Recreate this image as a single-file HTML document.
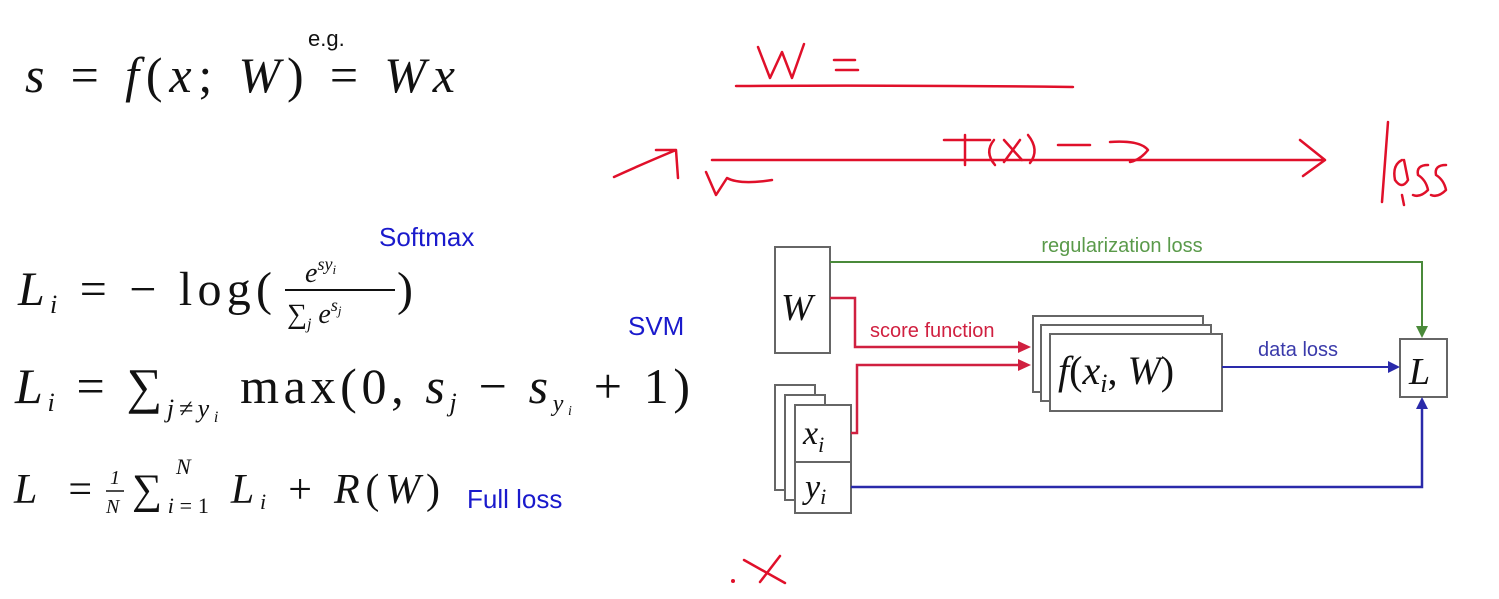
<!DOCTYPE html>
<html><head><meta charset="utf-8"><style>
html,body{margin:0;padding:0;background:#fff;}
svg{display:block}
.m{font-family:"Liberation Serif",serif;fill:#111;}
.i{font-style:italic}
.s{font-family:"Liberation Sans",sans-serif;}
</style></head><body>
<svg width="1499" height="599" viewBox="0 0 1499 599" xmlns="http://www.w3.org/2000/svg">
<rect width="1499" height="599" fill="#fff"/>
<!-- top formula -->
<text class="m" x="25" y="92" font-size="50" textLength="430" lengthAdjust="spacing"><tspan class="i">s</tspan> = <tspan class="i">f</tspan>(<tspan class="i">x</tspan>; <tspan class="i">W</tspan>) = <tspan class="i">Wx</tspan></text>
<text class="s" x="308" y="46" font-size="22" fill="#111">e.g.</text>
<!-- Softmax -->
<text class="s" x="379" y="246" font-size="26" fill="#1a1acc">Softmax</text>
<text class="m" x="18" y="305" font-size="48" textLength="254" lengthAdjust="spacing"><tspan class="i">L</tspan><tspan font-size="26" class="i" dy="8">i</tspan><tspan dy="-8"> = − log(</tspan></text>
<text class="m i" x="305" y="282" font-size="28">e<tspan font-size="18" dy="-12">sy</tspan><tspan font-size="13" dy="4">i</tspan></text>
<line x1="285" y1="290" x2="395" y2="290" stroke="#111" stroke-width="2"/>
<text class="m" x="287" y="323" font-size="28">∑<tspan class="i" font-size="16" dy="6">j</tspan><tspan class="i" dy="-6"> e</tspan><tspan class="i" font-size="18" dy="-12">s</tspan><tspan class="i" font-size="13" dy="4">j</tspan></text>
<text class="m" x="397" y="305" font-size="48">)</text>
<!-- SVM -->
<text class="s" x="628" y="335" font-size="26" fill="#1a1acc">SVM</text>
<text class="m" x="15" y="403" font-size="50" textLength="675" lengthAdjust="spacing"><tspan class="i">L</tspan><tspan font-size="26" class="i" dy="8">i</tspan><tspan dy="-8"> = ∑</tspan><tspan class="i" font-size="26" dy="14">j≠y</tspan><tspan class="i" font-size="16" dy="5">i</tspan><tspan dy="-19"> max(0, </tspan><tspan class="i">s</tspan><tspan class="i" font-size="26" dy="8">j</tspan><tspan dy="-8"> − </tspan><tspan class="i">s</tspan><tspan class="i" font-size="24" dy="8">y</tspan><tspan class="i" font-size="14" dy="4">i</tspan><tspan dy="-12"> + 1)</tspan></text>
<!-- Full loss -->
<text class="m" x="14" y="503" font-size="42" textLength="78" lengthAdjust="spacing"><tspan class="i">L</tspan> =</text>
<text class="m i" x="110" y="484" font-size="20">1</text>
<line x1="106" y1="491" x2="124" y2="491" stroke="#111" stroke-width="1.5"/>
<text class="m i" x="106" y="513" font-size="20">N</text>
<text class="m" x="132" y="503" font-size="42" textLength="308" lengthAdjust="spacing">∑<tspan class="i" font-size="22" dy="10">i</tspan><tspan font-size="22">=1</tspan><tspan class="i" dy="-10"> L</tspan><tspan class="i" font-size="22" dy="6">i</tspan><tspan dy="-6"> + </tspan><tspan class="i">R</tspan>(<tspan class="i">W</tspan>)</text>
<text class="m i" x="176" y="474" font-size="22">N</text>
<text class="s" x="467" y="508" font-size="26" fill="#1a1acc">Full loss</text>

<!-- diagram -->
<g fill="#fff" stroke="#666" stroke-width="2">
<rect x="775" y="247" width="55" height="106"/>
<rect x="775" y="385" width="40" height="105"/>
<rect x="785" y="395" width="40" height="105"/>
<rect x="795" y="405" width="56" height="108"/>
<line x1="795" y1="462" x2="851" y2="462"/>
<rect x="1033" y="316" width="170" height="76"/>
<rect x="1041" y="325" width="170" height="76"/>
<rect x="1050" y="334" width="172" height="77"/>
<rect x="1400" y="339" width="47" height="58"/>
</g>
<text class="m i" x="781" y="320" font-size="38">W</text>
<text class="m i" x="803" y="444" font-size="34">x<tspan font-size="22" dy="8">i</tspan></text>
<text class="m i" x="805" y="498" font-size="34">y<tspan font-size="22" dy="6">i</tspan></text>
<text class="m" x="1058" y="384" font-size="40"><tspan class="i">f</tspan>(<tspan class="i">x</tspan><tspan class="i" font-size="26" dy="8">i</tspan><tspan dy="-8">, </tspan><tspan class="i">W</tspan>)</text>
<text class="m i" x="1409" y="384" font-size="38">L</text>
<!-- green -->
<polyline points="830,262 1422,262 1422,332" fill="none" stroke="#4a8a3a" stroke-width="2"/>
<polygon points="1416,326 1428,326 1422,338" fill="#4a8a3a"/>
<text class="s" x="1122" y="252" font-size="20" fill="#5a9a4a" text-anchor="middle">regularization loss</text>
<!-- red -->
<polyline points="830,298 855,298 855,347 1022,347" fill="none" stroke="#d02040" stroke-width="2.5"/>
<polygon points="1018,341 1031,347 1018,353" fill="#d02040"/>
<polyline points="851,433 857,433 857,365 1022,365" fill="none" stroke="#d02040" stroke-width="2.5"/>
<polygon points="1018,359 1031,365 1018,371" fill="#d02040"/>
<text class="s" x="870" y="337" font-size="20" fill="#d02040">score function</text>
<!-- blue -->
<line x1="1222" y1="367" x2="1392" y2="367" stroke="#2a2aaa" stroke-width="2"/>
<polygon points="1388,361 1400,367 1388,373" fill="#2a2aaa"/>
<text class="s" x="1258" y="356" font-size="20" fill="#3a3aaa">data loss</text>
<polyline points="851,487 1422,487 1422,405" fill="none" stroke="#2a2aaa" stroke-width="2.5"/>
<polygon points="1416,409 1428,409 1422,397" fill="#2a2aaa"/>

<!-- handwriting -->
<g fill="none" stroke="#e0102a" stroke-width="2.5" stroke-linecap="round" stroke-linejoin="round">
<path d="M758,47 L770,78 L782,52 L792,78 L804,44"/>
<path d="M834,60 L855,60 M836,70 L858,70"/>
<path d="M736,86 Q900,85 1073,87"/>
<path d="M614,177 Q640,165 676,150 M656,150 L676,150 L678,178"/>
<path d="M712,160 L1325,160 M1300,140 L1325,160 L1303,176"/>
<path d="M706,172 L716,195 L727,178 Q740,185 772,180"/>
<path d="M944,140 L990,140 M965,135 L965,165"/>
<path d="M994,140 Q984,152 995,165"/>
<path d="M1004,140 L1022,160 M1020,140 L1004,162"/>
<path d="M1028,135 Q1040,150 1030,163"/>
<path d="M1058,145 L1090,145 M1110,142 Q1140,140 1148,150 Q1140,160 1130,162"/>
<path d="M1388,122 L1382,202 M1402,160 Q1392,165 1395,180 Q1402,190 1408,180 L1404,160 M1402,195 L1404,205"/>
<path d="M1428,165 Q1416,165 1418,175 Q1426,180 1428,190 Q1420,198 1413,195"/>
<path d="M1446,165 Q1434,165 1436,175 Q1444,180 1446,190 Q1438,198 1431,195"/>
<path d="M744,560 L785,583 M760,582 L780,556"/>
</g>
<circle cx="733" cy="581" r="2" fill="#e0102a"/>
</svg>
</body></html>
